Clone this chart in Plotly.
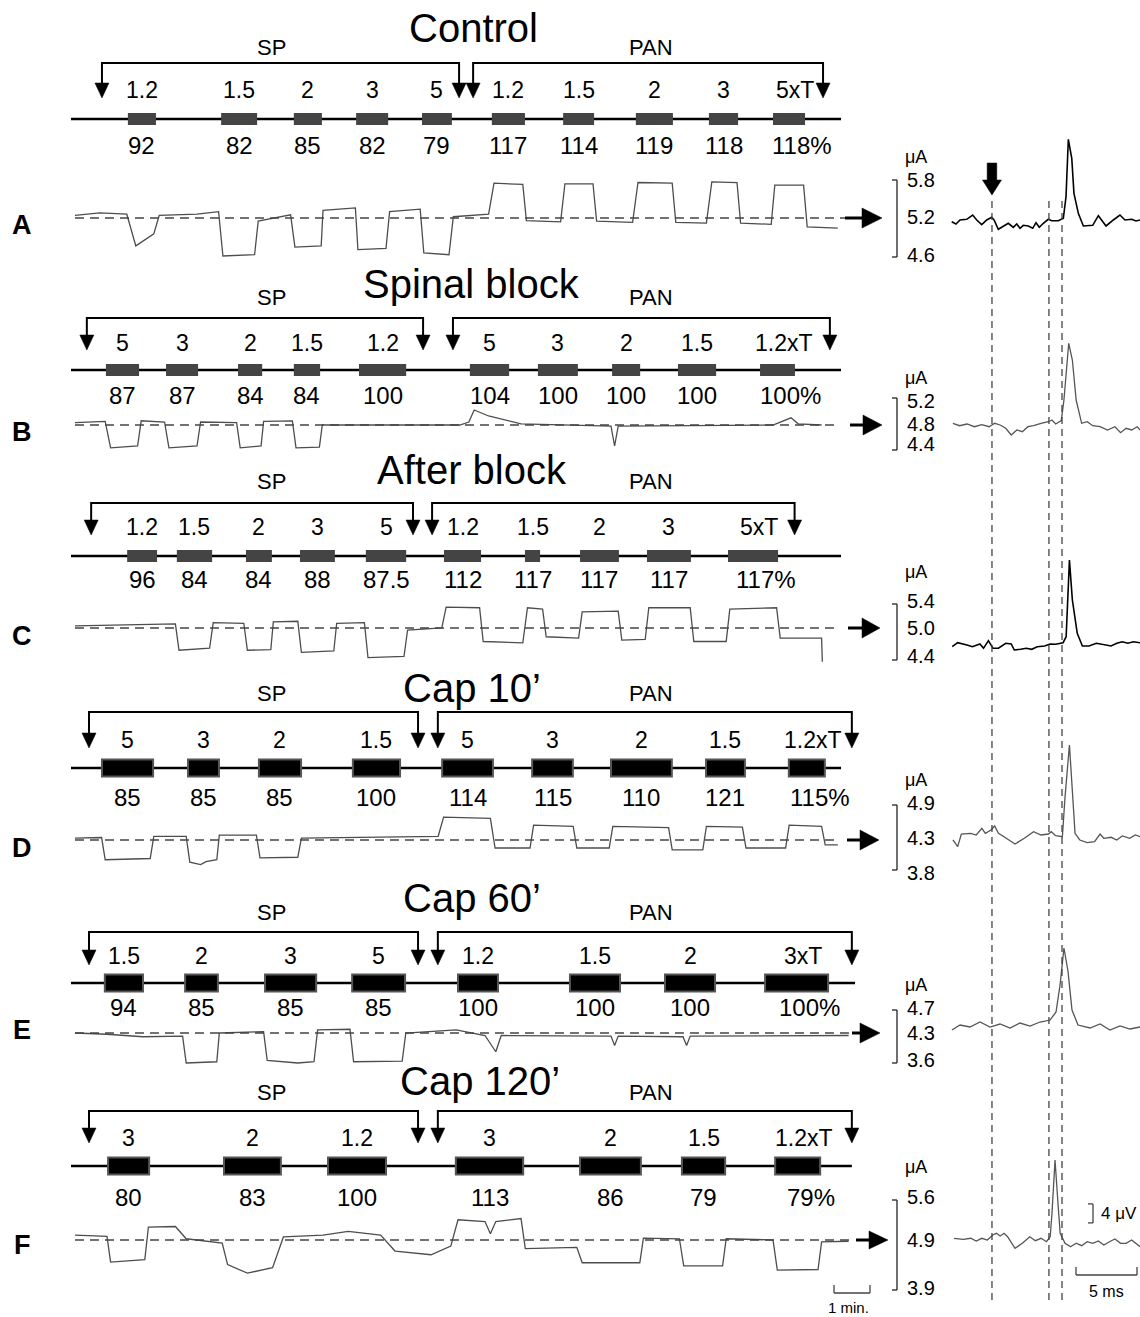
import plotly.graph_objects as go

W, H = 1140, 1317
FONT = "Liberation Sans, Arial, Helvetica, sans-serif"

# ======================= DATA =======================
letters = ["A", "B", "C", "D", "E", "F"]
titles = ["Control", "Spinal block", "After block", "Cap 10\u2019", "Cap 60\u2019", "Cap 120\u2019"]

# stimulus intensity labels (x threshold), response (% of baseline), stimulus periods [start, end] in min
A_stim = ["1.2", "1.5", "2", "3", "5", "1.2", "1.5", "2", "3", "5xT"]
A_pct = ["92", "82", "85", "82", "79", "117", "114", "119", "118", "118%"]
A_bars = [[1.58, 2.36], [4.17, 5.17], [6.19, 6.97], [7.92, 8.81], [9.75, 10.58],
          [11.69, 12.61], [13.67, 14.53], [15.69, 16.72], [17.72, 18.53], [19.5, 20.39]]

B_stim = ["5", "3", "2", "1.5", "1.2", "5", "3", "2", "1.5", "1.2xT"]
B_pct = ["87", "87", "84", "84", "100", "104", "100", "100", "100", "100%"]
B_bars = [[0.97, 1.89], [2.64, 3.53], [4.64, 5.31], [6.19, 6.92], [8.0, 9.31],
          [11.08, 12.17], [12.97, 14.08], [15.03, 15.81], [16.86, 17.92], [19.14, 20.11]]

C_stim = ["1.2", "1.5", "2", "3", "5", "1.2", "1.5", "2", "3", "5xT"]
C_pct = ["96", "84", "84", "88", "87.5", "112", "117", "117", "117", "117%"]
C_bars = [[1.56, 2.39], [2.94, 3.92], [4.86, 5.58], [6.36, 7.33], [8.19, 9.31],
          [10.36, 11.39], [12.61, 13.03], [14.14, 15.22], [16.0, 17.22], [18.25, 19.64]]

D_stim = ["5", "3", "2", "1.5", "5", "3", "2", "1.5", "1.2xT"]
D_pct = ["85", "85", "85", "100", "114", "115", "110", "121", "115%"]
D_bars = [[0.86, 2.28], [3.25, 4.11], [5.22, 6.39], [7.83, 9.14], [10.31, 11.72],
          [12.81, 13.94], [15.0, 16.69], [17.64, 18.72], [19.94, 20.94]]

E_stim = ["1.5", "2", "3", "5", "1.2", "1.5", "2", "3xT"]
E_pct = ["94", "85", "85", "85", "100", "100", "100", "100%"]
E_bars = [[0.94, 2.0], [3.17, 4.08], [5.39, 6.81], [7.81, 9.28], [10.75, 11.86],
          [13.86, 15.25], [16.5, 17.89], [19.28, 21.03]]

F_stim = ["3", "2", "1.2", "3", "2", "1.5", "1.2xT"]
F_pct = ["80", "83", "100", "113", "86", "79", "79%"]
F_bars = [[1.03, 2.17], [4.25, 5.83], [7.14, 8.75], [10.69, 12.56], [14.14, 15.83],
          [16.97, 18.17], [19.56, 20.81]]

# SP and PAN stimulation periods (min)
A_sp, A_pan = [0.86, 10.78], [11.17, 20.89]
B_sp, B_pan = [0.44, 9.78], [10.61, 21.08]
C_sp, C_pan = [0.56, 9.5], [10.03, 20.1]
D_sp, D_pan = [0.5, 9.64], [10.19, 21.69]
E_sp, E_pan = [0.5, 9.64], [10.19, 21.69]
F_sp, F_pan = [0.5, 9.64], [10.19, 21.69]

# recording length of the stimulation time line (min)
tl_end = [21.39, 21.39, 21.39, 21.39, 21.78, 21.69]

# current scale labels (uA)
A_ua = ["5.8", "5.2", "4.6"]
B_ua = ["5.2", "4.8", "4.4"]
C_ua = ["5.4", "5.0", "4.4"]
D_ua = ["4.9", "4.3", "3.8"]
E_ua = ["4.7", "4.3", "3.6"]
F_ua = ["5.6", "4.9", "3.9"]

# continuous traces: (time min, current uA)
A_trace = [(0.11, 5.24), (0.8, 5.28), (1.55, 5.26), (1.8, 4.76), (2.3, 4.95), (2.45, 5.24),
           (3.5, 5.26), (4.1, 5.3), (4.22, 4.6), (5.1, 4.62), (5.2, 5.15), (6.1, 5.25),
           (6.22, 4.74), (6.95, 4.76), (7.0, 5.32), (7.9, 5.36), (7.97, 4.7), (8.75, 4.72),
           (8.85, 5.3), (9.7, 5.34), (9.8, 4.65), (10.5, 4.62), (10.62, 5.22), (11.6, 5.26),
           (11.75, 5.75), (12.55, 5.73), (12.65, 5.16), (13.6, 5.14), (13.72, 5.74), (14.5, 5.74),
           (14.6, 5.15), (15.6, 5.13), (15.75, 5.76), (16.7, 5.75), (16.8, 5.13), (17.65, 5.12),
           (17.8, 5.77), (18.5, 5.76), (18.6, 5.12), (19.45, 5.1), (19.55, 5.72), (20.35, 5.72),
           (20.45, 5.06), (21.3, 5.04)]
B_trace = [(0.11, 4.84), (0.95, 4.86), (1.1, 4.42), (1.85, 4.45), (1.95, 4.87), (2.6, 4.85),
           (2.72, 4.42), (3.5, 4.45), (3.6, 4.85), (4.6, 4.84), (4.7, 4.42), (5.28, 4.45),
           (5.35, 4.86), (6.15, 4.87), (6.25, 4.42), (6.9, 4.43), (6.98, 4.8), (10.8, 4.8),
           (11.05, 4.85), (11.2, 5.05), (11.6, 4.95), (12.5, 4.82), (15.0, 4.78), (15.1, 4.45),
           (15.2, 4.78), (19.5, 4.8), (20.0, 4.92), (20.2, 4.82), (20.85, 4.8)]
C_trace = [(0.11, 5.03), (2.9, 5.06), (3.0, 4.67), (3.85, 4.7), (3.95, 5.08), (4.8, 5.07),
           (4.9, 4.67), (5.55, 4.68), (5.62, 5.09), (6.3, 5.1), (6.4, 4.64), (7.3, 4.66),
           (7.38, 5.07), (8.15, 5.08), (8.25, 4.56), (9.25, 4.58), (9.35, 4.97), (10.3, 5.0),
           (10.42, 5.31), (11.35, 5.3), (11.45, 4.8), (12.55, 4.78), (12.68, 5.3), (13.1, 5.28),
           (13.2, 4.87), (14.1, 4.85), (14.2, 5.24), (15.2, 5.25), (15.3, 4.82), (15.95, 4.83),
           (16.05, 5.3), (17.2, 5.3), (17.3, 4.8), (18.2, 4.8), (18.3, 5.28), (19.6, 5.3),
           (19.7, 4.85), (20.85, 4.85), (20.87, 4.5)]
D_trace = [(0.11, 4.33), (0.85, 4.34), (0.95, 3.98), (2.2, 4.0), (2.3, 4.36), (3.2, 4.36),
           (3.3, 3.94), (3.6, 3.9), (3.75, 3.95), (4.05, 3.98), (4.12, 4.38), (5.15, 4.38),
           (5.25, 4.01), (6.3, 4.02), (6.4, 4.33), (10.2, 4.36), (10.35, 4.67), (11.65, 4.65),
           (11.78, 4.17), (12.75, 4.17), (12.85, 4.54), (13.95, 4.52), (14.05, 4.17), (14.95, 4.17),
           (15.05, 4.52), (16.6, 4.5), (16.7, 4.14), (17.55, 4.14), (17.65, 4.52), (18.65, 4.51),
           (18.75, 4.17), (19.85, 4.17), (19.95, 4.54), (20.85, 4.52), (20.95, 4.22), (21.3, 4.22)]
E_trace = [(0.11, 4.3), (1.0, 4.28), (2.0, 4.24), (3.1, 4.25), (3.2, 3.82), (4.05, 3.84),
           (4.12, 4.3), (5.35, 4.32), (5.45, 3.86), (6.3, 3.82), (6.75, 3.84), (6.85, 4.35),
           (7.75, 4.36), (7.85, 3.84), (9.2, 3.85), (9.3, 4.3), (10.7, 4.35), (11.5, 4.26),
           (11.8, 4.0), (11.95, 4.26), (15.0, 4.25), (15.1, 4.1), (15.2, 4.25), (17.0, 4.24),
           (17.1, 4.1), (17.2, 4.25), (21.6, 4.26)]
F_trace = [(0.11, 4.98), (1.0, 4.96), (1.1, 4.54), (2.05, 4.58), (2.15, 5.11), (2.9, 5.12),
           (3.2, 4.92), (4.2, 4.85), (4.35, 4.5), (4.9, 4.36), (5.6, 4.45), (5.9, 4.95),
           (7.0, 4.98), (7.7, 5.04), (8.6, 4.98), (9.0, 4.72), (10.0, 4.66), (10.55, 4.8),
           (10.75, 5.23), (11.5, 5.2), (11.65, 5.0), (11.8, 5.2), (12.5, 5.25), (12.62, 4.76),
           (14.05, 4.78), (14.2, 4.53), (15.8, 4.53), (15.9, 4.93), (16.9, 4.92), (17.02, 4.48),
           (18.1, 4.48), (18.2, 4.92), (19.5, 4.9), (19.62, 4.41), (20.75, 4.42), (20.85, 4.87),
           (21.6, 4.88)]

# evoked responses: (time ms, uV relative to baseline)
A_evoked = [(0.14, -0.36), (0.49, -0.84), (0.82, 0), (1.37, 0.15), (1.86, 1.05), (2.19, 0),
            (2.6, -0.99), (3.01, 0), (3.42, 0.57), (3.61, 0), (3.96, -1.96), (4.37, -1.26),
            (4.78, -0.69), (5.19, -1.54), (5.47, -0.84), (5.74, -1.75), (6.01, -1.12), (6.42, -1.26),
            (6.78, -1.75), (7.05, -0.57), (7.32, -1.54), (7.65, -0.69), (8.06, 0.15), (8.34, -0.15),
            (8.88, -0.15), (9.29, 0.36), (9.51, 4.91), (9.7, 16.99), (9.98, 12.99), (10.16, 5.62),
            (10.52, 1.41), (10.93, -1.26), (11.7, -1.12), (12.16, 0.91), (12.79, -1.26), (13.39, 0),
            (13.93, 1.05), (14.34, 0), (14.89, 0.15), (15.25, -0.21), (15.57, 0)]
B_evoked = [(0.24, 0.36), (0.79, -0.15), (1.39, 0.21), (2.0, -0.36), (2.61, 0.06), (3.21, -0.36),
            (3.66, 0.36), (4.11, 0), (4.57, -0.69), (5.02, -2.11), (5.48, -1.05), (5.93, -1.41),
            (6.39, -0.36), (6.85, -0.15), (7.46, 0.36), (8.06, 0.69), (8.36, 1.05), (8.66, 0.21),
            (9.12, 0.91), (9.34, 5.26), (9.73, 17.2), (10.03, 13.68), (10.34, 5.26), (10.79, 0.36),
            (11.25, 0.69), (11.7, -0.15), (12.3, -0.36), (12.91, -1.05), (13.52, -0.36), (13.98, -1.62),
            (14.43, -0.69), (14.89, -1.05), (15.34, -0.36), (15.58, -1.05)]
C_evoked = [(0.18, -0.36), (0.63, 0.48), (1.39, 0), (1.84, -0.36), (2.45, 0.21), (2.75, -0.69),
            (3.15, 0.91), (3.52, -0.69), (3.97, -0.69), (4.57, 0.36), (5.02, 0.21), (5.27, -1.05),
            (5.79, -0.91), (6.25, -0.69), (6.7, -0.91), (7.15, -0.36), (7.75, -0.21), (8.21, 0.21),
            (8.66, 0.15), (9.27, 0.48), (9.52, 1.75), (9.79, 17.89), (10.03, 9.47), (10.43, 2.46),
            (10.85, -0.21), (11.39, -0.21), (12.0, 0.36), (12.61, 0.15), (13.21, -0.21), (13.67, 0.36),
            (14.12, 0.69), (14.58, 0.36), (15.03, 0.69), (15.58, 0.48)]
D_evoked = [(0.24, -0.63), (0.63, -2.04), (0.93, 0.63), (1.7, 0.78), (2.15, 0.42), (2.61, 1.83),
            (2.9, 0.78), (3.36, 1.47), (3.66, 2.32), (3.97, 0.78), (4.43, 0.06), (5.33, -1.47),
            (6.09, -0.27), (6.85, 1.12), (7.46, 0.42), (8.06, 0.63), (8.3, 1.12), (8.66, 0.27),
            (9.21, 0.06), (9.43, 8.48), (9.79, 19.37), (10.03, 8.48), (10.25, 0.78), (10.64, -0.63),
            (11.25, -1.2), (11.85, -0.99), (12.3, 0.63), (12.61, -0.27), (13.21, -0.06), (13.67, -0.63),
            (14.12, 0.21), (14.73, -0.27), (15.19, 0.42), (15.58, 0.06)]
E_evoked = [(0.16, -0.63), (0.82, 0.42), (1.64, 0), (2.46, 1.05), (3.28, 0), (4.1, 0.63),
            (4.92, -0.21), (5.74, 0.84), (6.56, 0.21), (7.38, 1.05), (8.2, 1.47), (8.69, 3.16),
            (9.02, 8.84), (9.34, 16.63), (9.67, 11.79), (10.0, 3.58), (10.49, 0.42), (11.48, -0.21),
            (12.3, 0.63), (13.11, -0.63), (13.93, 0.21), (14.75, -0.42), (15.57, 0)]
F_evoked = [(0.33, 0.36), (1.09, 0.15), (1.7, 0.36), (2.15, -0.21), (2.61, 0.36), (3.06, 0),
            (3.51, 1.05), (3.81, 1.41), (4.11, 0.84), (4.43, 1.41), (4.72, 0.69), (5.33, -1.75),
            (5.93, -0.69), (6.54, 0.69), (7.0, -0.15), (7.46, 0.36), (7.91, -0.36), (8.21, 0.69),
            (8.36, 5.62), (8.61, 16.84), (8.85, 7.72), (9.03, 1.41), (9.43, -0.69), (9.88, -1.41),
            (10.34, -0.69), (10.79, -1.2), (11.25, -0.36), (11.7, -0.69), (12.16, -0.21), (12.61, -1.05),
            (13.07, -0.36), (13.52, 0.21), (13.98, -0.69), (14.43, -0.69), (14.89, 0), (15.34, -1.05),
            (15.58, -1.41)]

# latency markers (ms) and scale bars
marker_ms = [3.44, 8.11, 9.18]
scale_min = 1.0     # min
scale_ms = 5.0      # ms
scale_uv = 4.0      # uV

panels = [
    dict(stim=A_stim, pct=A_pct, bars=A_bars, sp=A_sp, pan=A_pan, ua=A_ua, tr=A_trace, ev=A_evoked),
    dict(stim=B_stim, pct=B_pct, bars=B_bars, sp=B_sp, pan=B_pan, ua=B_ua, tr=B_trace, ev=B_evoked),
    dict(stim=C_stim, pct=C_pct, bars=C_bars, sp=C_sp, pan=C_pan, ua=C_ua, tr=C_trace, ev=C_evoked),
    dict(stim=D_stim, pct=D_pct, bars=D_bars, sp=D_sp, pan=D_pan, ua=D_ua, tr=D_trace, ev=D_evoked),
    dict(stim=E_stim, pct=E_pct, bars=E_bars, sp=E_sp, pan=E_pan, ua=E_ua, tr=E_trace, ev=E_evoked),
    dict(stim=F_stim, pct=F_pct, bars=F_bars, sp=F_sp, pan=F_pan, ua=F_ua, tr=F_trace, ev=F_evoked),
]

# ======================= LAYOUT (pixel positions) =======================
MIN_PX = 36.0    # px per minute
T0_PX = 71.0     # px of t = 0
MS_PX = 12.2     # px per ms
MS0_PX = 950.0   # px of 0 ms
UV_PX = 4.75     # px per uV

ROWS = [
    dict(title=(473, 28), sp=47, brk=63, tip=98, lab=90, tl=119, pct=146, base=218, letter=225,
         ua=157, ticks=(180, 217, 255), bracket=(180, 257), ev=220, dash_end=21.5,
         arrow=(845, 862, 882, 10), barh=12, dark=False, evk='black'),
    dict(title=(471, 284), sp=297, brk=318, tip=350, lab=343, tl=370, pct=395, base=425, letter=432,
         ua=378, ticks=(401, 424, 444), bracket=(398, 450), ev=425, dash_end=21.31,
         arrow=(850, 863, 882, 10), barh=12, dark=False, evk='#555555'),
    dict(title=(472, 470), sp=482, brk=503, tip=535, lab=527, tl=556, pct=580, base=628, letter=636,
         ua=572, ticks=(601, 628, 656), bracket=(604, 660), ev=645, dash_end=21.36,
         arrow=(848, 862, 880, 10), barh=12, dark=False, evk='black'),
    dict(title=(472, 688), sp=694, brk=712, tip=748, lab=740, tl=768, pct=797, base=840, letter=848,
         ua=780, ticks=(803, 838, 873), bracket=(805, 870), ev=837, dash_end=21.36,
         arrow=(847, 860, 879, 10), barh=17, dark=True, evk='#555555'),
    dict(title=(472, 898), sp=912, brk=932, tip=965, lab=956, tl=983, pct=1007, base=1033, letter=1030,
         ua=985, ticks=(1008, 1033, 1060), bracket=(1010, 1063), ev=1027, dash_end=21.64,
         arrow=(852, 860, 880, 10), barh=17, dark=True, evk='#555555'),
    dict(title=(480, 1081), sp=1092, brk=1111, tip=1143, lab=1138, tl=1166, pct=1197, base=1240, letter=1245,
         ua=1167, ticks=(1197, 1240, 1288), bracket=(1200, 1290), ev=1240, dash_end=21.69,
         arrow=(856, 869, 888, 9), barh=17, dark=True, evk='#555555'),
]

shapes, ann, traces = [], [], []


def px(x):
    return x / W


def py(y):
    return 1 - y / H


def seg(x0, y0, x1, y1, xref='paper', yref='paper', color='black', width=2, dash=None):
    ln = dict(color=color, width=width)
    if dash:
        ln['dash'] = dash
    shapes.append(dict(type='line', xref=xref, yref=yref, x0=x0, y0=y0, x1=x1, y1=y1, line=ln))


def poly(p, xref='paper', yref='paper', fill='black'):
    shapes.append(dict(type='path', path=p, xref=xref, yref=yref, fillcolor=fill,
                       line=dict(color=fill, width=0.5)))


def text(x, y, s, size, xref='paper', bold=False, xanchor='center', xshift=0, color='black'):
    ann.append(dict(x=px(x) if xref == 'paper' else x, y=py(y), xref=xref, yref='paper',
                    text=f"<b>{s}</b>" if bold else s, showarrow=False, xanchor=xanchor,
                    yanchor='middle', xshift=xshift,
                    font=dict(family=FONT, size=size, color=color)))


layout_axes = {}
layout_axes['xaxis'] = dict(domain=[0, px(890)], range=[-T0_PX / MIN_PX, (890 - T0_PX) / MIN_PX],
                            visible=False, fixedrange=True)
layout_axes['xaxis2'] = dict(domain=[px(MS0_PX), 1.0], range=[0, (W - MS0_PX) / MS_PX],
                             visible=False, fixedrange=True)

hw = 7 / MIN_PX  # half width of bracket arrow heads in min

for i, (p, r) in enumerate(zip(panels, ROWS)):
    n = i + 1
    yl = 'y' if n == 1 else f'y{n}'
    yr = f'y{n + 6}'
    ua_vals = [float(v) for v in p['ua']]
    mid = ua_vals[1]
    s = (ua_vals[0] - ua_vals[1]) / (r['base'] - r['ticks'][0])
    span = 70
    layout_axes['yaxis' if n == 1 else f'yaxis{n}'] = dict(
        domain=[py(r['base'] + span), py(r['base'] - span)],
        range=[mid - span * s, mid + span * s], anchor='x', visible=False, fixedrange=True)
    layout_axes[f'yaxis{n + 6}'] = dict(
        domain=[py(r['ev'] + 35), py(r['ev'] - 100)],
        range=[-35 / UV_PX, 100 / UV_PX], anchor='x2', visible=False, fixedrange=True)

    # title, SP, PAN
    text(r['title'][0], r['title'][1], titles[i], 40)
    text(271, r['sp'], 'SP', 22)
    text(651, r['sp'], 'PAN', 22)

    # brackets with down arrows
    for a, b in (p['sp'], p['pan']):
        seg(a, py(r['brk']), b, py(r['brk']), xref='x', width=2)
        for t in (a, b):
            seg(t, py(r['brk'] - 1), t, py(r['tip'] - 12), xref='x', width=2)
            poly(f"M {t - hw},{py(r['tip'] - 15)} L {t + hw},{py(r['tip'] - 15)} L {t},{py(r['tip'])} Z",
                 xref='x')

    # time line and stimulation bars
    seg(0, py(r['tl']), tl_end[i], py(r['tl']), xref='x', width=2.5)
    for (b0, b1) in p['bars']:
        if r['dark']:
            shapes.append(dict(type='rect', xref='x', yref='paper', x0=b0, x1=b1,
                               y0=py(r['tl'] + r['barh'] / 2), y1=py(r['tl'] - r['barh'] / 2),
                               fillcolor='black', line=dict(color='#555555', width=2)))
        else:
            shapes.append(dict(type='rect', xref='x', yref='paper', x0=b0, x1=b1,
                               y0=py(r['tl'] + r['barh'] / 2), y1=py(r['tl'] - r['barh'] / 2),
                               fillcolor='#444444', line=dict(width=0)))
    nb = len(p['bars'])
    for k, (b0, b1) in enumerate(p['bars']):
        c = (b0 + b1) / 2
        text(c, r['lab'], p['stim'][k], 23, xref='x', xshift=6 if k == nb - 1 else 0)
        text(c, r['pct'], p['pct'][k], 24, xref='x', xshift=13 if k == nb - 1 else 0)

    # baseline (dashed) and current trace
    shapes.append(dict(type='line', xref='x', yref=yl, x0=0.11, x1=r['dash_end'], y0=mid, y1=mid,
                       line=dict(color='#444444', width=1.5, dash='9px,6px')))
    traces.append(go.Scatter(x=[q[0] for q in p['tr']], y=[q[1] for q in p['tr']],
                             xaxis='x', yaxis=yl, mode='lines',
                             line=dict(color='#4d4d4d', width=1.3), hoverinfo='skip', showlegend=False))

    # arrow to evoked response
    s0, h0, h1, hh = r['arrow']
    seg(px(s0), py(r['base']), px(h0 + 1), py(r['base']), width=3)
    poly(f"M {px(h0)},{py(r['base'] - hh)} L {px(h1)},{py(r['base'])} L {px(h0)},{py(r['base'] + hh)} Z")

    # panel letter
    text(22, r['letter'], letters[i], 27, bold=True)

    # current scale bracket
    bt, bb = r['bracket']
    seg(px(897), py(bt), px(897), py(bb), color='#222222', width=1.3)
    seg(px(892), py(bt), px(897), py(bt), color='#222222', width=1.3)
    seg(px(892), py(bb), px(897), py(bb), color='#222222', width=1.3)
    text(903, r['ua'], '\u03bcA', 18, xanchor='left')
    for lab, yy in zip(p['ua'], r['ticks']):
        text(905, yy, lab, 20, xanchor='left')

    # evoked response
    traces.append(go.Scatter(x=[q[0] for q in p['ev']], y=[q[1] for q in p['ev']],
                             xaxis='x2', yaxis=yr, mode='lines',
                             line=dict(color=r['evk'], width=1.6 if r['evk'] == 'black' else 1.3),
                             hoverinfo='skip', showlegend=False))

# latency markers
for m in marker_ms:
    seg(m, py(1300), m, py(196), xref='x2', color='#444444', width=1.3, dash='7px,5px')

# stimulus arrow (block arrow) above first marker
sw = 4.8 / MS_PX
hwd = 9.5 / MS_PX
m0 = marker_ms[0]
poly(f"M {m0 - sw},{py(163)} L {m0 + sw},{py(163)} L {m0 + sw},{py(180)} L {m0 + hwd},{py(180)} "
     f"L {m0},{py(195)} L {m0 - hwd},{py(180)} L {m0 - sw},{py(180)} Z", xref='x2')

# 1 min scale bar
t_a = (834 - T0_PX) / MIN_PX
seg(t_a, py(1293), t_a + scale_min, py(1293), xref='x', color='#444444', width=1.3)
seg(t_a, py(1293), t_a, py(1285), xref='x', color='#444444', width=1.3)
seg(t_a + scale_min, py(1293), t_a + scale_min, py(1285), xref='x', color='#444444', width=1.3)
text(t_a + scale_min / 2, 1307, '1 min.', 15, xref='x', xshift=-4)

# 5 ms scale bar
m_a = (1076 - MS0_PX) / MS_PX
seg(m_a, py(1275), m_a + scale_ms, py(1275), xref='x2', color='#444444', width=1.3)
seg(m_a, py(1275), m_a, py(1267), xref='x2', color='#444444', width=1.3)
seg(m_a + scale_ms, py(1275), m_a + scale_ms, py(1267), xref='x2', color='#444444', width=1.3)
text(m_a + scale_ms / 2, 1291, '5 ms', 16, xref='x2')

# 4 uV scale bracket (in panel F units)
mv = (1093 - MS0_PX) / MS_PX
mv0 = (1088 - MS0_PX) / MS_PX
seg(mv, 3.6, mv, 3.6 + scale_uv, xref='x2', yref='y12', color='#444444', width=1.3)
seg(mv0, 3.6, mv, 3.6, xref='x2', yref='y12', color='#444444', width=1.3)
seg(mv0, 3.6 + scale_uv, mv, 3.6 + scale_uv, xref='x2', yref='y12', color='#444444', width=1.3)
text(1099, 1213, '4 \u03bcV', 17, xanchor='left')

fig = go.Figure(data=traces)
fig.update_layout(
    width=W, height=H, margin=dict(l=0, r=0, t=0, b=0),
    paper_bgcolor='white', plot_bgcolor='rgba(0,0,0,0)',
    shapes=shapes, annotations=ann, showlegend=False,
    **layout_axes
)
fig.write_html("out.html", config={'displayModeBar': False},
               post_script="document.body.style.margin='0px';")
